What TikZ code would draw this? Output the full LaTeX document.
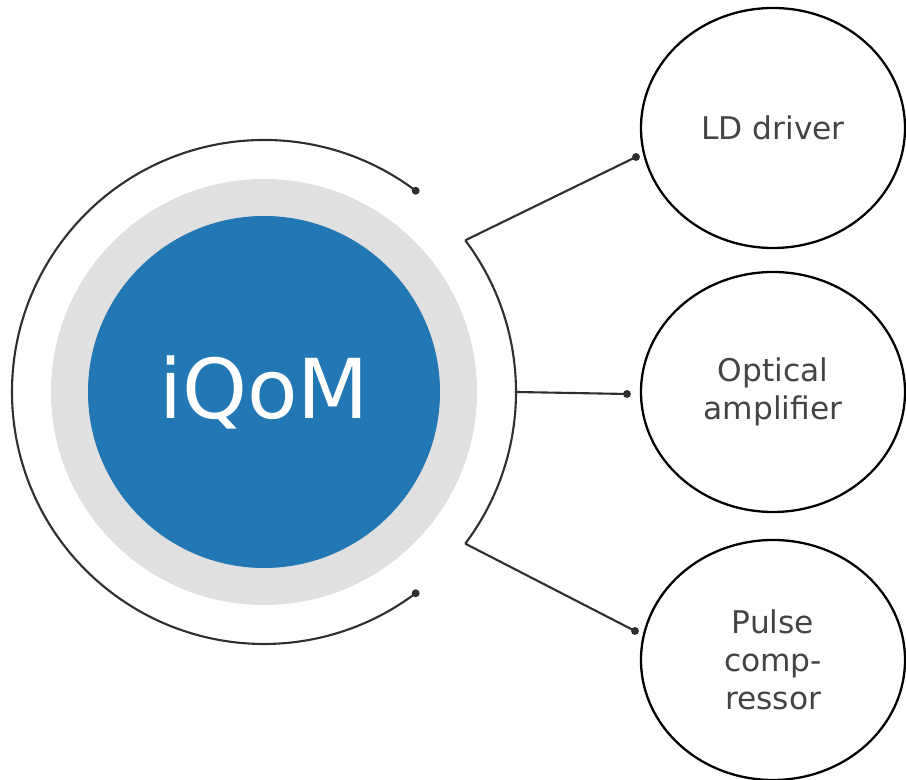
\documentclass[tikz,border=0pt]{standalone}
\usepackage{fontspec}
\setmainfont{DejaVu Sans}
\usetikzlibrary{shapes.geometric,calc}
\definecolor{iqomblue}{HTML}{2277B5}
\definecolor{ringgray}{HTML}{E0E0E0}
\definecolor{linegray}{HTML}{2E2E2E}
\definecolor{textgray}{HTML}{444444}
\tikzset{
    part/.style={ellipse, draw=black, line width=1.3pt, minimum width=5.28cm,
        minimum height=4.8cm, align=center, text=textgray,
        font=\fontsize{17.8}{21.5}\selectfont},
    link/.style={draw=linegray, line width=1.2pt},
    dot/.style={circle, fill=linegray, inner sep=0pt, minimum size=4.5pt}
}
\begin{document}
\begin{tikzpicture}
    \useasboundingbox (0, 0) rectangle (18.12, 15.6);
    \fill[ringgray] (5.28, 7.76) circle (4.26);
    \node[circle, fill=iqomblue, minimum size=7.04cm, text=white,
        font=\fontsize{47}{50}\selectfont] (iqom) at(5.28, 7.76) {iQoM};
    \draw[link] ($(iqom.center)+(53:5.04)$) arc (53:307:5.04);
    \draw[link] ($(iqom.center)+(-37:5.04)$) arc (-37:37:5.04);
    \node[dot] at($(iqom.center)+(53:5.04)$) {};
    \node[dot] at($(iqom.center)+(307:5.04)$) {};
    \node[part] (ld) at(15.46, 13.04) {LD driver};
    \node[part] (amp) at(15.46, 7.76) {Optical\\amplifier};
    \node[part] (pc) at(15.46, 2.4) {Pulse\\comp-\\ressor};
    \coordinate (a1) at($(iqom.center)+(37:5.04)$);
    \coordinate (a2) at($(iqom.center)+(0:5.04)$);
    \coordinate (a3) at($(iqom.center)+(-37:5.04)$);
    \coordinate (d1) at(12.72, 12.46);
    \coordinate (d2) at(12.54, 7.72);
    \coordinate (d3) at(12.7, 2.98);
    \draw[link] (a1) -- (d1);
    \draw[link] (a2) -- (d2);
    \draw[link] (a3) -- (d3);
    \node[dot] at(d1) {};
    \node[dot] at(d2) {};
    \node[dot] at(d3) {};
\end{tikzpicture}
\end{document}
